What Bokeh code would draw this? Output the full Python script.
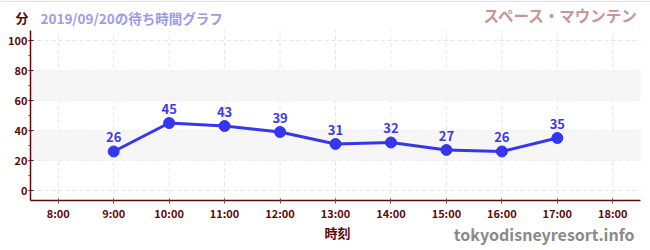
from bokeh.plotting import figure
from bokeh.models import (ColumnDataSource, Range1d, SingleIntervalTicker, FixedTicker,
                          BoxAnnotation, Label, Span)
from bokeh.core.properties import value
from bokeh.embed import file_html
from bokeh.resources import INLINE

hours = [9, 10, 11, 12, 13, 14, 15, 16, 17]
waits = [26, 45, 43, 39, 31, 32, 27, 26, 35]
tick_hours = [8, 9, 10, 11, 12, 13, 14, 15, 16, 17, 18]
tick_labels = [f"{h}:00" for h in tick_hours]
y_ticks = [0, 20, 40, 60, 80, 100]
bands = [(20, 40), (60, 80)]
date_title = "2019/09/20の待ち時間グラフ"
attraction = "スペース・マウンテン"
y_unit = "分"
x_title = "時刻"
site = "tokyodisneyresort.info"

FONT = "Noto Sans CJK JP"
MAROON = "#5c0a0a"
W, H = 650, 250
# plot area in pixels (left, right, top, bottom) and its data extent
PL, PR, PT, PB = 30, 640, 30, 200
X_LO, X_HI = 7.5, 18.5
Y_LO, Y_HI = -6.7, 106.7

kx = (X_HI - X_LO) / (PR - PL)
ky = (Y_HI - Y_LO) / (PB - PT)
xr = Range1d(X_LO - PL * kx, X_HI + (W - PR) * kx)
yr = Range1d(Y_LO - (H - PB) * ky, Y_HI + PT * ky)

p = figure(width=W, height=H, output_backend="svg", toolbar_location=None,
           x_range=xr, y_range=yr,
           min_border=0, min_border_left=0, min_border_right=0,
           min_border_top=0, min_border_bottom=0)
p.outline_line_color = None
p.grid.visible = False

for b, t in bands:
    p.add_layout(BoxAnnotation(left=X_LO, right=X_HI, bottom=b, top=t,
                               fill_color="#f6f6f6", fill_alpha=1.0,
                               line_color=None, level="underlay"))

# dashed grid
p.segment(x0=[X_LO] * len(y_ticks), x1=[X_HI] * len(y_ticks), y0=y_ticks, y1=y_ticks,
          line_color="#e4e4e4", line_dash="4 3", line_width=1, level="underlay")
p.segment(x0=tick_hours, x1=tick_hours, y0=[Y_LO] * len(tick_hours),
          y1=[Y_HI] * len(tick_hours),
          line_color="#e4e4e4", line_dash="4 3", line_width=1, level="underlay")

# x axis
xa = p.xaxis[0]
xa.fixed_location = Y_LO
xa.bounds = (X_LO, X_HI)
xa.ticker = FixedTicker(ticks=tick_hours)
xa.major_label_overrides = {h: l for h, l in zip(tick_hours, tick_labels)}
xa.axis_line_color = MAROON
xa.axis_line_width = 1.5
xa.major_tick_line_color = "#555555"
xa.major_tick_in = 2
xa.major_tick_out = 3
xa.minor_tick_line_color = None
xa.major_label_standoff = 1
xa.major_label_text_color = MAROON
xa.major_label_text_font = FONT
xa.major_label_text_font_size = "11px"
xa.major_label_text_font_style = "bold"

# y axis
ya = p.yaxis[0]
ya.fixed_location = X_LO
ya.bounds = (Y_LO, Y_HI)
ya.ticker = SingleIntervalTicker(interval=20, num_minor_ticks=2)
ya.axis_line_color = MAROON
ya.axis_line_width = 1.5
ya.major_tick_line_color = "#222222"
ya.major_tick_in = 3
ya.major_tick_out = 2
ya.minor_tick_line_color = "#e00000"
ya.minor_tick_in = 0
ya.minor_tick_out = 2
ya.major_label_standoff = 1
ya.major_label_text_color = MAROON
ya.major_label_text_font = FONT
ya.major_label_text_font_size = "11px"
ya.major_label_text_font_style = "bold"

src = ColumnDataSource(dict(x=hours, y=waits, t=[str(w) for w in waits]))
p.line("x", "y", source=src, line_color="#3636f0", line_width=3)
p.scatter("x", "y", source=src, size=11, fill_color="#3636f0", line_color="#3636f0")
p.text("x", "y", text="t", source=src, y_offset=-9, text_align="center",
       text_baseline="bottom", text_color="#3a3aea", text_font=value(FONT),
       text_font_size="13px", text_font_style="bold")

p.add_layout(Span(location=yr.end - 0.75 * ky, dimension="width",
                  line_color="#e2e2f6", line_width=1.5))


def lab(x, y, text, **kw):
    p.add_layout(Label(x=x, y=H - y, x_units="screen", y_units="screen", text=text,
                       text_font=FONT, text_baseline="middle", text_font_style="bold", **kw))


lab(15, 17, y_unit, text_color=MAROON, text_font_size="13px")
lab(40, 17, date_title, text_color="#9b9bee", text_font_size="13.5px")
lab(638, 14, attraction, text_color="#c99595", text_font_size="15.5px", text_align="right")
lab(337, 232, x_title, text_color=MAROON, text_font_size="13px", text_align="center")
lab(634, 233, site, text_color="#8a8a8a", text_font_size="16px", text_align="right")

open("out.html", "w").write(file_html(p, INLINE))
